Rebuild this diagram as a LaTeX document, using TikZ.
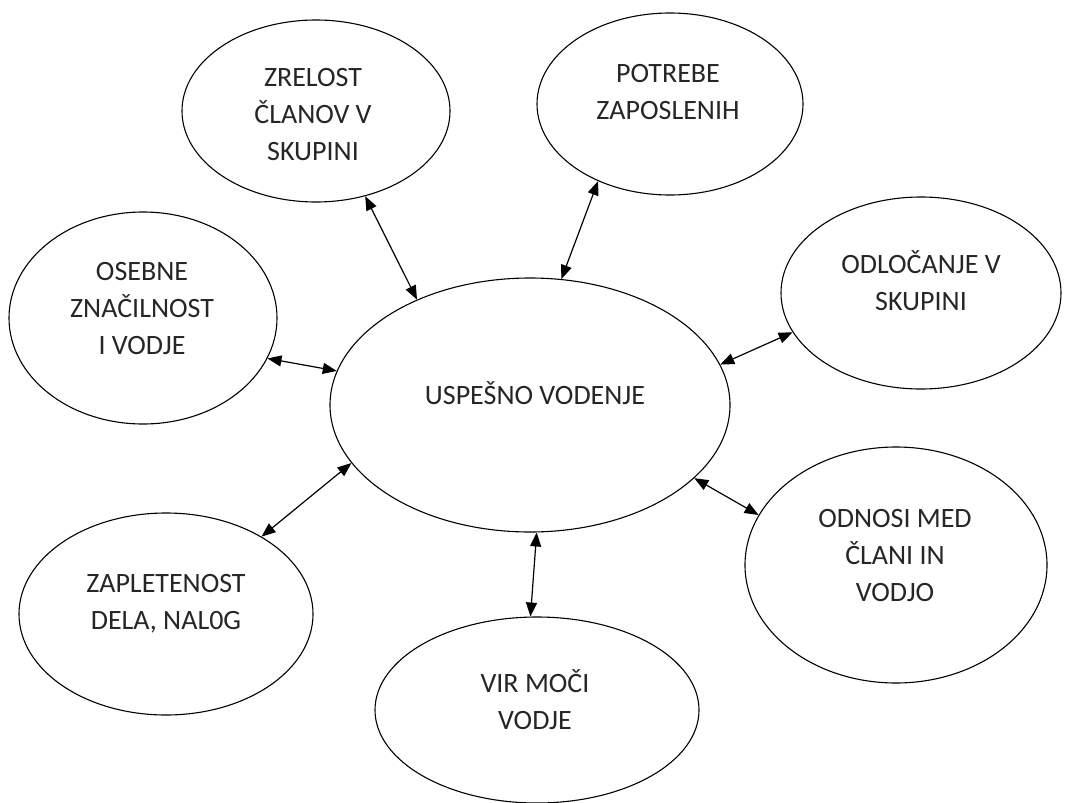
\documentclass[tikz,border=0pt]{standalone}
\usepackage{fontspec}
\setmainfont{Carlito}
\usetikzlibrary{shapes.geometric,arrows.meta}
\begin{document}
\begin{tikzpicture}[x=1pt,y=-1pt,
  bub/.style={draw=black,line width=1.1pt,ellipse,inner sep=0pt},
  lbl/.style={align=center,inner sep=0pt,text=black!85,font=\fontsize{28}{37}\selectfont},
  conn/.style={line width=1.2pt,{Triangle[length=14pt,width=11pt]}-{Triangle[length=14pt,width=11pt]}}]
\useasboundingbox (0,0) rectangle (1068,803);
\fill[white] (0,0) rectangle (1068,803);
% ellipses
\node[bub,minimum width=400pt,minimum height=254pt] (C) at (530,405) {};
\node[bub,minimum width=268pt,minimum height=182pt] (Z) at (316,111) {};
\node[bub,minimum width=268pt,minimum height=212pt] (O) at (143,318) {};
\node[bub,minimum width=266pt,minimum height=182pt] (P) at (670,104) {};
\node[bub,minimum width=280pt,minimum height=192pt] (D) at (921,293) {};
\node[bub,minimum width=294pt,minimum height=202pt] (A) at (166,614) {};
\node[bub,minimum width=324pt,minimum height=186pt] (V) at (537,710) {};
\node[bub,minimum width=302pt,minimum height=236pt] (N) at (896,565) {};
% labels
\node[lbl] (tC) at (535,393) {USPEŠNO VODENJE};
\node[lbl] (tZ) at (313,115) {ZRELOST\\ČLANOV V\\SKUPINI};
\node[lbl] (tO) at (142,309) {OSEBNE\\ZNAČILNOST\\I VODJE};
\node[lbl] (tP) at (668,92) {POTREBE\\ZAPOSLENIH};
\node[lbl] (tD) at (921,281) {ODLOČANJE V\\SKUPINI};
\node[lbl] (tA) at (166,604) {ZAPLETENOST\\DELA, NAL0G};
\node[lbl] (tV) at (535,700) {VIR MOČI\\VODJE};
\node[lbl] (tN) at (895,556) {ODNOSI MED\\ČLANI IN\\VODJO};
% connectors
\draw[conn] (Z.300.4) -- (C.137.1);
\draw[conn] (O.342.9) -- (C.170.5);
\draw[conn] (P.227.6) -- (C.76.8);
\draw[conn] (D.197.1) -- (C.12.7);
\draw[conn] (A.39.9) -- (C.198.8);
\draw[conn] (V.94.3) -- (C.273);
\draw[conn] (N.160) -- (C.336.4);
\end{tikzpicture}
\end{document}
